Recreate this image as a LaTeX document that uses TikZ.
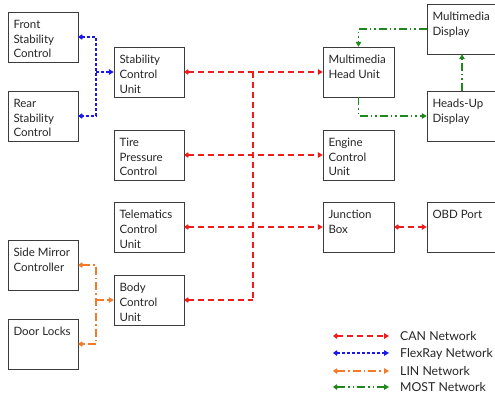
\documentclass[tikz,border=0pt]{standalone}
\usepackage{fontspec}
\setmainfont{Lato}
\usetikzlibrary{arrows.meta,shadows}
\definecolor{canred}{RGB}{238,28,28}
\definecolor{flexblue}{RGB}{25,25,235}
\definecolor{linorange}{RGB}{242,122,40}
\definecolor{mostgreen}{RGB}{30,135,30}
\definecolor{boxline}{RGB}{60,60,60}
\begin{document}
\begin{tikzpicture}[x=1pt,y=-1pt,
  ecubox/.style={draw=boxline,line width=0.9pt,fill=white,
     drop shadow={opacity=0.25,shadow xshift=1pt,shadow yshift=-1pt}},
  boxtxt/.style={anchor=north west,inner sep=0pt,align=left,
     font=\fontsize{11.5}{14.8}\selectfont,text=black!85,xshift=5.5pt,yshift=-8.0pt},
  legtxt/.style={anchor=base west,inner sep=0pt,font=\fontsize{12.3}{13}\selectfont,text=black!85},
  tipS/.tip={Kite[length=5pt,width=5.5pt]},
  tipE/.tip={Triangle[length=5pt,width=5.5pt]},
  net/.style={line width=1.4pt},
  can/.style={net,canred,dash pattern=on 6pt off 4pt},
  flex/.style={net,flexblue,dash pattern=on 3pt off 2pt},
  lin/.style={net,linorange,dash pattern=on 8pt off 3pt on 1.5pt off 3pt},
  most/.style={net,mostgreen,dash pattern=on 8pt off 3pt on 1.5pt off 3pt on 1.5pt off 3pt},
]
\clip (0,0) rectangle (495,396);
\fill[white] (0,0) rectangle (495,396);

% boxes: name, corners
\newcommand{\ecu}[6]{%
  \path[ecubox] (#2,#3) rectangle (#4,#5);
  \node[inner sep=0pt,minimum width={#4-#2},minimum height={#5-#3}] (#1) at ({(#2+#4)/2},{(#3+#5)/2}) {};
  \node[boxtxt] at (#1.north west) {#6};}

\ecu{fsc}{8}{12}{78}{62}{Front\\Stability\\Control}
\ecu{rsc}{8}{91}{78}{141}{Rear\\Stability\\Control}
\ecu{scu}{114}{47}{184}{97}{Stability\\Control\\Unit}
\ecu{tpc}{114}{130}{184}{180}{Tire\\Pressure\\Control}
\ecu{tcu}{114}{202}{184}{252}{Telematics\\Control\\Unit}
\ecu{smc}{8}{240}{78}{290}{Side Mirror\\Controller}
\ecu{bcu}{114}{275}{184}{325}{Body\\Control\\Unit}
\ecu{dl}{8}{319}{78}{369}{Door Locks}
\ecu{mhu}{323}{47}{394}{97}{Multimedia\\Head Unit}
\ecu{ecuu}{323}{130}{394}{180}{Engine\\Control\\Unit}
\ecu{jb}{323}{202}{394}{252}{Junction\\Box}
\ecu{md}{427}{4}{497}{54}{Multimedia\\Display}
\ecu{hud}{427}{91}{497}{141}{Heads-Up\\Display}
\ecu{obd}{427}{202}{497}{252}{OBD Port}

% CAN
\coordinate (cantop) at (253,72);
\coordinate (canbot) at (253,300);
\draw[can] (cantop) -- (canbot);
\draw[can,tipS-tipE] (scu.east) -- (mhu.west);
\draw[can,tipS-tipE] (tpc.east) -- (ecuu.west);
\draw[can,tipS-tipE] (tcu.east) -- (jb.west);
\draw[can,tipS-] (bcu.east) -- (canbot);
\draw[can,tipS-tipE] (jb.east) -- (obd.west);

% FlexRay
\coordinate (fxj) at (96,72);
\draw[flex,tipS-tipS] (fsc.east) -| (fxj) |- (rsc.east);
\draw[flex,-tipE] (fxj) -- (scu.west);

% LIN
\coordinate (lnj) at (96,300);
\draw[lin,tipS-tipS] (smc.east) -| (lnj) |- (dl.east);
\draw[lin,-tipE] (lnj) -- (bcu.west);

% MOST
\draw[most,-tipE] (md.west) -| (mhu.north);
\draw[most,-tipE] (mhu.south) |- (hud.west);
\draw[most,-tipE] (hud.north) -- (md.south);

% legend
\coordinate (l1a) at (333,336); \coordinate (l1b) at (389,336);
\coordinate (l2a) at (333,353); \coordinate (l2b) at (389,353);
\coordinate (l3a) at (333,371); \coordinate (l3b) at (389,371);
\coordinate (l4a) at (333,387); \coordinate (l4b) at (389,387);
\draw[can,tipS-tipE] (l1a) -- (l1b);
\draw[flex,tipS-tipE] (l2a) -- (l2b);
\draw[lin,tipS-tipE] (l3a) -- (l3b);
\draw[most,tipS-tipE] (l4a) -- (l4b);
\node[legtxt] (lg1) at (400,340.5) {CAN Network};
\node[legtxt] (lg2) at (400,357.5) {FlexRay Network};
\node[legtxt] (lg3) at (400,375.5) {LIN Network};
\node[legtxt] (lg4) at (400,391.5) {MOST Network};
\end{tikzpicture}
\end{document}
